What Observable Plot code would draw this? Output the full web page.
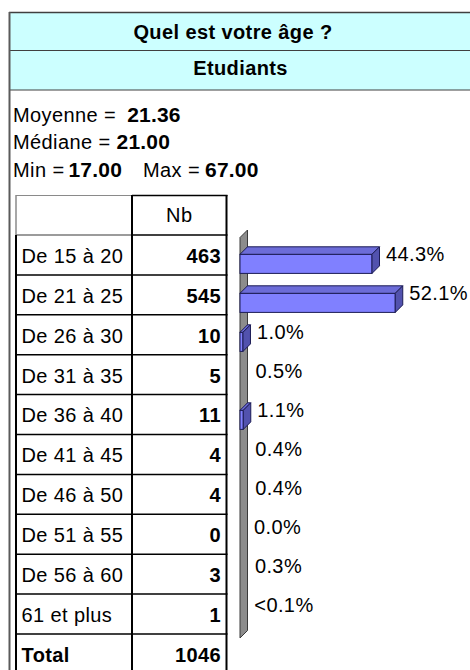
<!DOCTYPE html>
<html>
<head>
<meta charset="utf-8">
<script src="https://cdn.jsdelivr.net/npm/d3@7"></script>
<script src="https://cdn.jsdelivr.net/npm/@observablehq/plot@0.6"></script>
<style>
  body { margin: 0; background: #fff; }
  #page { position: relative; width: 470px; height: 670px; overflow: hidden; background: #fff;
          font-family: "Liberation Sans", Arial, sans-serif; }
  #page svg { position: absolute; }
  .txt { font-family: "Liberation Sans", Arial, sans-serif; font-size: 20px; letter-spacing: 0.4px; fill: #000; }
  .b { font-weight: bold; }
  .sv { font-size: 21px; letter-spacing: 0.2px; }
</style>
</head>
<body>
<div id="page"></div>
<script>
// ---------- data ----------
const title = "Quel est votre âge ?";
const group = "Etudiants";
const statMean = ["Moyenne =", "21.36"];
const statMedian = ["Médiane =", "21.00"];
const statMin = ["Min =", "17.00"];
const statMax = ["Max =", "67.00"];
const countHeader = "Nb";
const categories = ["De 15 à 20", "De 21 à 25", "De 26 à 30", "De 31 à 35", "De 36 à 40",
                    "De 41 à 45", "De 46 à 50", "De 51 à 55", "De 56 à 60", "61 et plus"];
const counts = [463, 545, 10, 5, 11, 4, 4, 0, 3, 1];
const percents = [44.3, 52.1, 1.0, 0.5, 1.1, 0.4, 0.4, 0.0, 0.3, 0.1];
const percentLabels = ["44.3%", "52.1%", "1.0%", "0.5%", "1.1%", "0.4%", "0.4%", "0.0%", "0.3%", "<0.1%"];
const totalLabel = "Total";
const totalCount = 1046;

// ---------- layout ----------
const rowH = 39.9;
const headTop = 195, bodyTop = 235;
const colL = 16, colM = 132, colR = 226.5;
const depth = 7.5;            // 3D offset of bars / wall
const minDrawnPct = 1;        // thinner bars vanish inside the 3D wall in the original
const colors = {header: "#ccffff", front: "#8080ff", top: "#6c6cd8", side: "#5252ae", edge: "#1c1c55",
                wall: "#8c8c8c", wallEdge: "#3a3a3a"};

const page = d3.select("#page");
const bg = page.append("svg").attr("width", 470).attr("height", 670).style("left", "0px").style("top", "0px");

// header band
bg.append("rect").attr("x", 9).attr("y", 12).attr("width", 461).attr("height", 78).attr("fill", colors.header);
bg.append("line").attr("x1", 9).attr("x2", 470).attr("y1", 12.5).attr("y2", 12.5).attr("stroke", "#404040").attr("stroke-width", 1.5);
bg.append("line").attr("x1", 9).attr("x2", 470).attr("y1", 50.5).attr("y2", 50.5).attr("stroke", "#404040").attr("stroke-width", 1);
bg.append("line").attr("x1", 9).attr("x2", 470).attr("y1", 90).attr("y2", 90).attr("stroke", "#404040").attr("stroke-width", 1);
bg.append("line").attr("x1", 9.5).attr("x2", 9.5).attr("y1", 12).attr("y2", 670).attr("stroke", "#5a5a5a").attr("stroke-width", 2);

bg.append("text").attr("class", "txt b").attr("x", 233).attr("y", 38.5).attr("text-anchor", "middle").text(title);
bg.append("text").attr("class", "txt b").attr("x", 240.5).attr("y", 75).attr("text-anchor", "middle").text(group);

// statistics lines
function stat(x, y, label, value, gap) {
  const t = bg.append("text").attr("class", "txt").attr("x", x).attr("y", y).text(label);
  const w = t.node().getComputedTextLength();
  bg.append("text").attr("class", "txt b sv").attr("x", x + w + gap).attr("y", y).text(value);
}
stat(13, 121.7, statMean[0], statMean[1], 11);
stat(13, 149.3, statMedian[0], statMedian[1], 6);
stat(13, 176.7, statMin[0], statMin[1], 4);
stat(143, 176.7, statMax[0], statMax[1], 5);

// table grid
const nRows = categories.length;
const totalTop = bodyTop + nRows * rowH;
function hline(y, x1, x2, c, w) { bg.append("line").attr("x1", x1).attr("x2", x2).attr("y1", y).attr("y2", y).attr("stroke", c).attr("stroke-width", w); }
function vline(x, y1, y2, c, w) { bg.append("line").attr("x1", x).attr("x2", x).attr("y1", y1).attr("y2", y2).attr("stroke", c).attr("stroke-width", w); }
hline(headTop + 0.5, colL, colM, "#8a8a8a", 1);
hline(headTop + 0.5, colM, colR + 1, "#000", 1.5);
vline(colL, headTop, bodyTop, "#8a8a8a", 1.5);
hline(bodyTop, colL, colM, "#7a7a7a", 1.5);
hline(bodyTop, colM, colR + 1, "#000", 1.5);
for (let i = 1; i <= nRows; i++) hline(bodyTop + i * rowH, colL, colR + 1, "#000", 1.5);
vline(colL, bodyTop, 670, "#000", 2);
vline(colM, headTop, 670, "#000", 2);
vline(colR, headTop, 670, "#000", 2);

// table texts
bg.append("text").attr("class", "txt").attr("x", (colM + colR) / 2).attr("y", headTop + 26.5).attr("text-anchor", "middle").text(countHeader);
categories.forEach((c, i) => {
  const top = bodyTop + i * rowH;
  bg.append("text").attr("class", "txt").attr("x", 21.5).attr("y", top + 27.8).text(c);
  bg.append("text").attr("class", "txt b").attr("x", 221).attr("y", top + 27.8).attr("text-anchor", "end").text(counts[i]);
});
bg.append("text").attr("class", "txt b").attr("x", 21.5).attr("y", totalTop + 27.8).text(totalLabel);
bg.append("text").attr("class", "txt b").attr("x", 221).attr("y", totalTop + 27.8).attr("text-anchor", "end").text(totalCount);

// ---------- bar chart (Observable Plot) ----------
const rows = categories.map((c, i) => ({category: c, pct: percents[i], label: percentLabels[i]}));
const NS = "http://www.w3.org/2000/svg";
function poly(g, pts, fill, stroke) {
  const p = document.createElementNS(NS, "path");
  p.setAttribute("d", "M" + pts.map(q => q.join(",")).join("L") + "Z");
  p.setAttribute("fill", fill); p.setAttribute("stroke", stroke); p.setAttribute("stroke-width", 1);
  p.setAttribute("stroke-linejoin", "round");
  g.appendChild(p);
}

const svgW = 242, svgH = 450, mTop = 15, mLeft = 12;
const chart = Plot.plot({
  width: svgW, height: svgH,
  marginLeft: mLeft, marginTop: mTop, marginRight: 0, marginBottom: svgH - mTop - nRows * rowH,
  x: {domain: [0, 100], range: [mLeft, mLeft + 298], axis: null},
  y: {domain: categories, padding: 0, axis: null},
  style: {background: "transparent", overflow: "visible", fontFamily: "Liberation Sans, Arial, sans-serif"},
  marks: [
    // 3D side wall at the value axis
    Plot.rect([0], {
      render(index, scales, values, dims) {
        const g = document.createElementNS(NS, "g");
        const x0 = scales.x(0);
        const y0 = dims.marginTop, y1 = dims.height - dims.marginBottom;
        poly(g, [[x0, y0 + 2.5], [x0 + depth, y0 + 2.5 - depth], [x0 + depth, y1 + 4 - depth], [x0, y1 + 4]],
             colors.wall, colors.wallEdge);
        return g;
      }
    }),
    // 3D bars
    Plot.barX(rows.filter(d => d.pct >= minDrawnPct), {
      x1: 0, x2: "pct", y: "category",
      insetTop: 14.3, insetBottom: rowH - 34.3,
      fill: colors.front, stroke: colors.edge, strokeWidth: 1,
      render(index, scales, values, dims, ctx, next) {
        const g = next(index, scales, values, dims, ctx);
        for (const r of Array.from(g.querySelectorAll("rect"))) {
          const x = +r.getAttribute("x"), y = +r.getAttribute("y");
          const w = +r.getAttribute("width"), h = +r.getAttribute("height");
          poly(g, [[x, y], [x + depth, y - depth], [x + w + depth, y - depth], [x + w, y]], colors.top, colors.edge);
          poly(g, [[x + w, y], [x + w + depth, y - depth], [x + w + depth, y + h - depth], [x + w, y + h]], colors.side, colors.edge);
        }
        return g;
      }
    }),
    // percentage labels
    Plot.text(rows, {
      x: "pct", y: "category", text: "label",
      dx: depth + 6, dy: -5, textAnchor: "start",
      fontSize: 20, fill: "#000"
    })
  ]
});
d3.select(chart).style("left", "228px").style("top", "220px").style("letter-spacing", "0.4px");
page.node().appendChild(chart);
</script>
</body>
</html>
